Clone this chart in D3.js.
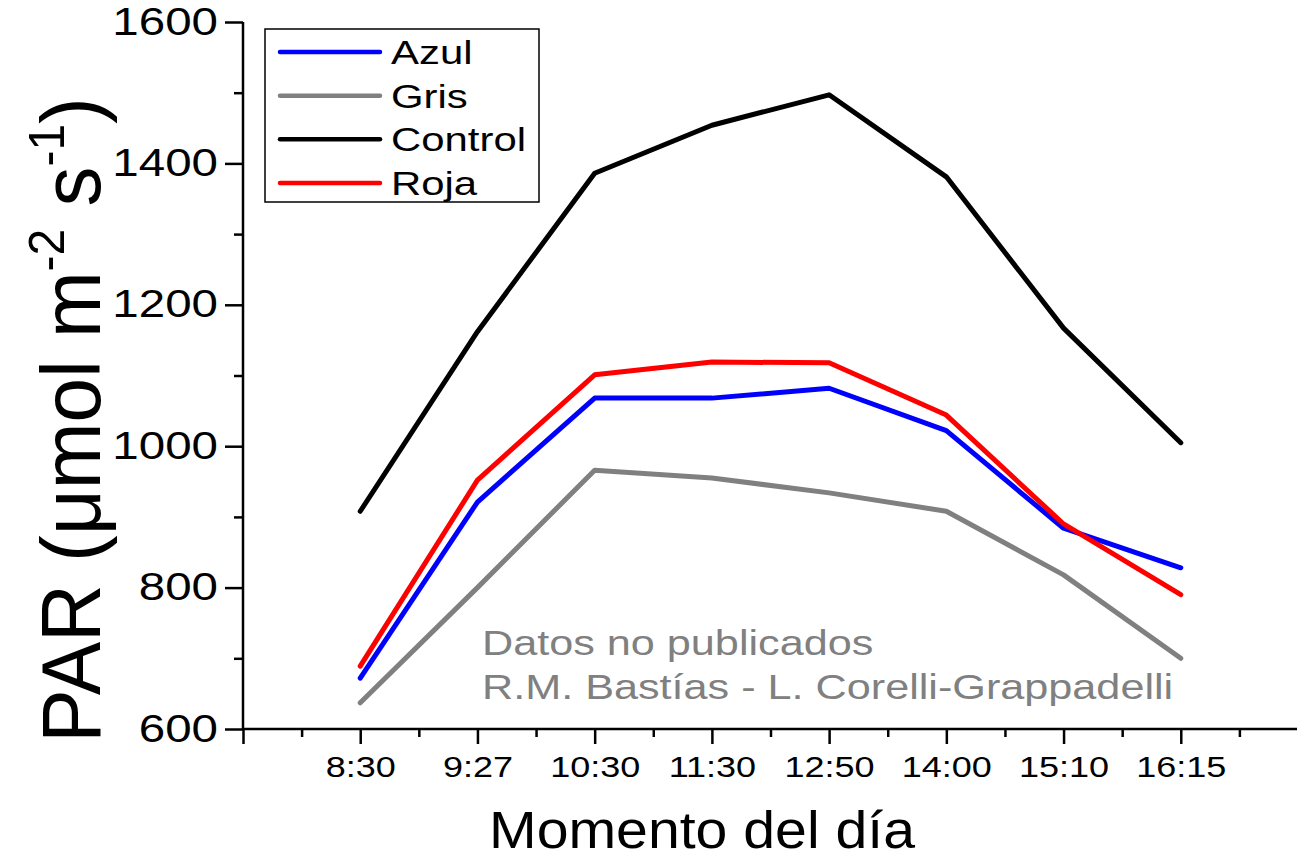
<!DOCTYPE html>
<html>
<head>
<meta charset="utf-8">
<script src="https://cdn.jsdelivr.net/npm/d3@7"></script>
<style>
  body { margin: 0; background: #fff; }
  svg { display: block; font-family: "Liberation Sans", Arial, sans-serif; }
</style>
</head>
<body>
<div id="chart"></div>
<script>
// momentos del día (categorías)
const hours = ["8:30", "9:27", "10:30", "11:30", "12:50", "14:00", "15:10", "16:15"];

// PAR (umol m-2 s-1) por tratamiento
const azul = [672, 921, 1068, 1068, 1082, 1022, 884, 828];
const gris = [637, 800, 966, 955, 934, 908, 818, 700];
const control = [908, 1162, 1386, 1454, 1497, 1381, 1167, 1005];
const roja = [689, 952, 1101, 1119, 1118, 1044, 890, 790];

const seriesNames = ["Azul", "Gris", "Control", "Roja"];
const seriesColors = ["#0000ff", "#808080", "#000000", "#ff0000"];

const yTicks = [600, 800, 1000, 1200, 1400, 1600];
const yMinorTicks = [700, 900, 1100, 1300, 1500];

const width = 1297, height = 862;
const series = [azul, gris, control, roja].map((vals, i) => ({
  name: seriesNames[i],
  color: seriesColors[i],
  values: vals,
}));

const svg = d3.select("#chart").append("svg")
  .attr("width", width)
  .attr("height", height);

const x = d3.scaleLinear().domain([-1, 8]).range([243, 1298]);
const y = d3.scaleLinear().domain([600, 1600]).range([729, 22]);

// stretch text horizontally (the source image is wider than normal)
function stretch(sel, s) {
  sel.each(function () {
    const t = d3.select(this);
    const tx = +t.attr("x") || 0;
    t.attr("x", tx / s).attr("transform", `scale(${s},1)`);
  });
}

// y axis
const yAxisG = svg.append("g").attr("transform", `translate(${x(-1)},0)`);
yAxisG.call(d3.axisLeft(y).tickValues(yTicks).tickSize(18).tickPadding(7).tickFormat(d3.format("d")));
yAxisG.append("g").call(d3.axisLeft(y).tickValues(yMinorTicks).tickSize(9).tickFormat(""))
  .select(".domain").remove();
yAxisG.selectAll("text").attr("font-size", 38).attr("fill", "#000").attr("font-family", null);
yAxisG.selectAll("text").call(stretch, 1.25);

// x axis
const xAxisG = svg.append("g").attr("transform", `translate(0,${y(600)})`);
xAxisG.call(d3.axisBottom(x).tickValues(d3.range(-1, 9)).tickSize(15).tickPadding(12)
  .tickFormat(d => hours[d] || ""));
xAxisG.append("g").call(d3.axisBottom(x).tickValues(d3.range(-0.5, 8.5, 1)).tickSize(8).tickFormat(""))
  .select(".domain").remove();
xAxisG.selectAll("text").attr("font-size", 30).attr("fill", "#000").attr("font-family", null);
xAxisG.selectAll("text").call(stretch, 1.2);

svg.selectAll(".domain").attr("stroke", "#000").attr("stroke-width", 2.5);
svg.selectAll(".tick line").attr("stroke", "#000").attr("stroke-width", 2.5);
yAxisG.select(".domain").attr("d", `M0,${y(1600)}V${y(600)}`);
xAxisG.select(".domain").attr("d", `M${x(-1)},0H${width}`);

// lines
const line = d3.line()
  .x((d, i) => x(i))
  .y(d => y(d));

svg.append("g").selectAll("path")
  .data(series)
  .join("path")
  .attr("d", d => line(d.values))
  .attr("fill", "none")
  .attr("stroke", d => d.color)
  .attr("stroke-width", 5)
  .attr("stroke-linejoin", "round")
  .attr("stroke-linecap", "round");

// legend
const legend = svg.append("g");
legend.append("rect")
  .attr("x", 265).attr("y", 29)
  .attr("width", 274).attr("height", 173)
  .attr("fill", "#fff").attr("stroke", "#000").attr("stroke-width", 1.5);
const rowY = d3.scalePoint().domain(seriesNames).range([52, 183]);
const item = legend.selectAll(".item").data(series).join("g").attr("class", "item");
item.append("line")
  .attr("x1", 280).attr("x2", 380)
  .attr("y1", d => rowY(d.name)).attr("y2", d => rowY(d.name))
  .attr("stroke", d => d.color).attr("stroke-width", 4.5).attr("stroke-linecap", "round");
item.append("text")
  .attr("x", 391).attr("y", d => rowY(d.name) + 12)
  .attr("font-size", 33).attr("fill", "#000")
  .text(d => d.name)
  .call(stretch, 1.27);

// annotation
const note = svg.append("g").attr("fill", "#808080").attr("font-size", 36);
note.append("text").attr("x", 482).attr("y", 655).text("Datos no publicados").call(stretch, 1.2);
note.append("text").attr("x", 482).attr("y", 699).text("R.M. Bastías - L. Corelli-Grappadelli").call(stretch, 1.2);

// axis titles
svg.append("text")
  .attr("transform", `translate(702,848) scale(1.1,1)`)
  .attr("text-anchor", "middle")
  .attr("font-size", 52)
  .text("Momento del día");

const yt = svg.append("text")
  .attr("transform", `translate(100,420) scale(1.05,1) rotate(-90)`)
  .attr("text-anchor", "middle")
  .attr("font-size", 80);
yt.append("tspan").text("PAR (μmol m");
yt.append("tspan").attr("dy", -34).attr("font-size", 48).text("-2");
yt.append("tspan").attr("dy", 34).text(" s");
yt.append("tspan").attr("dy", -34).attr("font-size", 48).text("-1");
yt.append("tspan").attr("dy", 34).text(")");
</script>
</body>
</html>
